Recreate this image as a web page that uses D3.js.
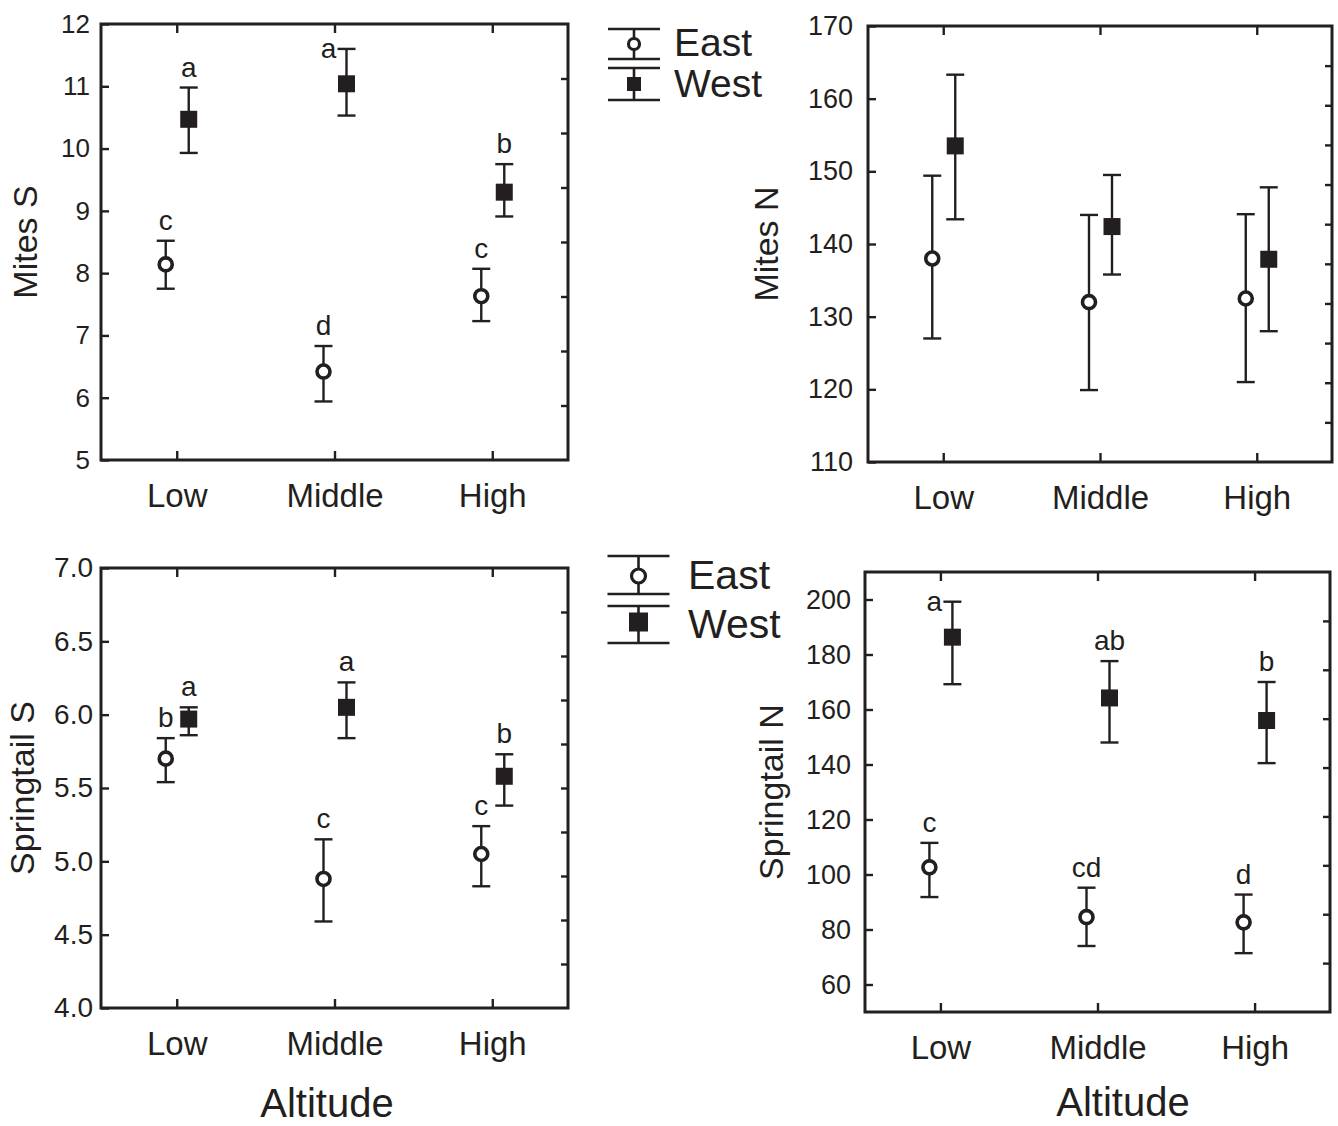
<!DOCTYPE html>
<html>
<head>
<meta charset="utf-8">
<script src="https://cdn.jsdelivr.net/npm/d3@7"></script>
<style>
  html, body { margin: 0; padding: 0; background: #fff; }
  svg { display: block; }
  text { font-family: "Liberation Sans", Arial, Helvetica, sans-serif; fill: #231f20; }
</style>
</head>
<body>
<svg id="chart" width="1338" height="1126"></svg>
<script>
// ---------------- DATA ----------------
const categories = ["Low", "Middle", "High"];
const seriesNames = ["East", "West"];

// Mites S
const mitesSTicks = [5, 6, 7, 8, 9, 10, 11, 12];
const mitesS_East = [8.14, 6.42, 7.63];
const mitesS_East_lo = [7.75, 5.94, 7.23];
const mitesS_East_hi = [8.52, 6.83, 8.07];
const mitesS_East_letters = ["c", "d", "c"];
const mitesS_West = [10.47, 11.04, 9.30];
const mitesS_West_lo = [9.93, 10.53, 8.91];
const mitesS_West_hi = [10.98, 11.60, 9.75];
const mitesS_West_letters = ["a", "a", "b"];

// Mites N
const mitesNTicks = [110, 120, 130, 140, 150, 160, 170];
const mitesN_East = [138.0, 132.0, 132.5];
const mitesN_East_lo = [127.0, 119.9, 121.0];
const mitesN_East_hi = [149.4, 144.0, 144.1];
const mitesN_West = [153.5, 142.4, 137.9];
const mitesN_West_lo = [143.4, 135.8, 128.0];
const mitesN_West_hi = [163.3, 149.5, 147.8];

// Springtail S
const springSTicks = [4.0, 4.5, 5.0, 5.5, 6.0, 6.5, 7.0];
const springS_East = [5.70, 4.88, 5.05];
const springS_East_lo = [5.54, 4.59, 4.83];
const springS_East_hi = [5.84, 5.15, 5.24];
const springS_East_letters = ["b", "c", "c"];
const springS_West = [5.97, 6.05, 5.58];
const springS_West_lo = [5.86, 5.84, 5.38];
const springS_West_hi = [6.05, 6.22, 5.73];
const springS_West_letters = ["a", "a", "b"];

// Springtail N
const springNTicks = [60, 80, 100, 120, 140, 160, 180, 200];
const springN_East = [102.6, 84.5, 82.6];
const springN_East_lo = [91.8, 74.0, 71.4];
const springN_East_hi = [111.5, 95.2, 92.7];
const springN_East_letters = ["c", "cd", "d"];
const springN_West = [186.3, 164.2, 156.0];
const springN_West_lo = [169.2, 148.0, 140.5];
const springN_West_hi = [199.2, 177.6, 170.0];
const springN_West_letters = ["a", "ab", "b"];

// ---------------- LAYOUT ----------------
const INK = "#231f20";
const panels = [
  { title: "Mites S", frame: { x0: 101, x1: 568, y0: 24, y1: 460 }, domain: [5, 12], ticks: mitesSTicks, fmt: d3.format("d"),
    titleX: 25, tickGap: 11, tickFont: 26, rightParts: 8,
    east: [mitesS_East, mitesS_East_lo, mitesS_East_hi, mitesS_East_letters],
    west: [mitesS_West, mitesS_West_lo, mitesS_West_hi, mitesS_West_letters] },
  { title: "Mites N", frame: { x0: 868, x1: 1332, y0: 26, y1: 462 }, domain: [110, 170], ticks: mitesNTicks, fmt: d3.format("d"),
    titleX: 766, tickGap: 15, tickFont: 27, rightParts: 11,
    east: [mitesN_East, mitesN_East_lo, mitesN_East_hi, null],
    west: [mitesN_West, mitesN_West_lo, mitesN_West_hi, null] },
  { title: "Springtail S", frame: { x0: 101, x1: 568, y0: 568, y1: 1008 }, domain: [4, 7], ticks: springSTicks, fmt: d3.format(".1f"),
    titleX: 22, tickGap: 8, tickFont: 28, rightParts: 10, altitude: { x: 327, y: 1117 },
    east: [springS_East, springS_East_lo, springS_East_hi, springS_East_letters],
    west: [springS_West, springS_West_lo, springS_West_hi, springS_West_letters] },
  { title: "Springtail N", frame: { x0: 865, x1: 1330, y0: 572, y1: 1012 }, domain: [50, 210], ticks: springNTicks, fmt: d3.format("d"),
    titleX: 771, tickGap: 14, tickFont: 27, rightParts: 9, altitude: { x: 1123, y: 1116 },
    east: [springN_East, springN_East_lo, springN_East_hi, springN_East_letters],
    west: [springN_West, springN_West_lo, springN_West_hi, springN_West_letters] }
];

const svg = d3.select("#chart");

function drawPanel(p) {
  const f = p.frame;
  const g = svg.append("g");
  const x = d3.scalePoint().domain(categories).range([f.x0, f.x1]).padding(0.48);
  const y = d3.scaleLinear().domain(p.domain).range([f.y1, f.y0]);
  const yRight = d3.scaleLinear().domain([0, p.rightParts]).range([f.y1, f.y0]);

  // left axis (inward ticks)
  const la = g.append("g").attr("transform", `translate(${f.x0},0)`)
    .call(d3.axisLeft(y).tickValues(p.ticks).tickFormat(p.fmt).tickSizeInner(-8).tickSizeOuter(0).tickPadding(p.tickGap));
  la.select(".domain").remove();
  la.selectAll("line").attr("stroke", INK).attr("stroke-width", 2.4);
  la.selectAll("text").attr("font-size", p.tickFont).attr("font-family", null).attr("fill", INK);

  // bottom axis
  const ba = g.append("g").attr("transform", `translate(0,${f.y1})`)
    .call(d3.axisBottom(x).tickSizeInner(-9).tickSizeOuter(0).tickPadding(24));
  ba.select(".domain").remove();
  ba.selectAll("line").attr("stroke", INK).attr("stroke-width", 2.4);
  ba.selectAll("text").attr("font-size", 33).attr("font-family", null).attr("fill", INK);

  // top axis
  const ta = g.append("g").attr("transform", `translate(0,${f.y0})`)
    .call(d3.axisTop(x).tickSizeInner(-9).tickSizeOuter(0).tickFormat(""));
  ta.select(".domain").remove();
  ta.selectAll("line").attr("stroke", INK).attr("stroke-width", 2.4);

  // right axis (inward minor ticks)
  const ra = g.append("g").attr("transform", `translate(${f.x1},0)`)
    .call(d3.axisRight(yRight).tickValues(d3.range(1, p.rightParts)).tickSizeInner(-7).tickSizeOuter(0).tickFormat(""));
  ra.select(".domain").remove();
  ra.selectAll("line").attr("stroke", INK).attr("stroke-width", 2.4);

  // frame
  g.append("rect").attr("x", f.x0).attr("y", f.y0).attr("width", f.x1 - f.x0).attr("height", f.y1 - f.y0)
    .attr("fill", "none").attr("stroke", INK).attr("stroke-width", 3);

  // y title
  g.append("text").attr("transform", `translate(${p.titleX},${(f.y0 + f.y1) / 2}) rotate(-90)`)
    .attr("text-anchor", "middle").attr("dominant-baseline", "central").attr("font-size", 34).text(p.title);

  if (p.altitude) {
    g.append("text").attr("x", p.altitude.x).attr("y", p.altitude.y).attr("text-anchor", "middle")
      .attr("font-size", 40).text("Altitude");
  }

  const dodge = { East: -11, West: 12 };
  [["East", p.east], ["West", p.west]].forEach(([name, arr]) => {
    const [mean, lo, hi, letters] = arr;
    categories.forEach((c, i) => {
      const cx = x(c) + dodge[name];
      const cap = 9;
      g.append("line").attr("x1", cx).attr("x2", cx).attr("y1", y(lo[i])).attr("y2", y(hi[i]))
        .attr("stroke", INK).attr("stroke-width", 2.4);
      [lo[i], hi[i]].forEach(v => {
        g.append("line").attr("x1", cx - cap).attr("x2", cx + cap).attr("y1", y(v)).attr("y2", y(v))
          .attr("stroke", INK).attr("stroke-width", 2.4);
      });
      if (name === "East") {
        g.append("circle").attr("cx", cx).attr("cy", y(mean[i])).attr("r", 6.5)
          .attr("fill", "#fff").attr("stroke", INK).attr("stroke-width", 3.6);
      } else {
        g.append("rect").attr("x", cx - 8.5).attr("y", y(mean[i]) - 8.5).attr("width", 17).attr("height", 17)
          .attr("fill", INK);
      }
      if (letters) {
        const capY = y(hi[i]);
        const nearTop = capY - f.y0 < 36;
        g.append("text")
          .attr("x", nearTop ? cx - 18 : cx)
          .attr("y", nearTop ? capY + 9 : capY - 11)
          .attr("text-anchor", "middle").attr("font-size", 28).text(letters[i]);
      }
    });
  });
}

panels.forEach(drawPanel);

// ---------------- LEGENDS ----------------
function drawLegend(L) {
  const g = svg.append("g");
  const items = [
    { name: seriesNames[0], caps: L.eastCaps, my: L.eastY },
    { name: seriesNames[1], caps: L.westCaps, my: L.westY }
  ];
  items.forEach((it, k) => {
    g.append("line").attr("x1", L.cx).attr("x2", L.cx).attr("y1", it.caps[0]).attr("y2", it.caps[1])
      .attr("stroke", INK).attr("stroke-width", 2.6);
    it.caps.forEach(cy => g.append("line").attr("x1", L.cx - L.half).attr("x2", L.cx + L.half)
      .attr("y1", cy).attr("y2", cy).attr("stroke", INK).attr("stroke-width", 2.6));
    if (k === 0) {
      g.append("circle").attr("cx", L.cx).attr("cy", it.my).attr("r", L.r).attr("fill", "#fff")
        .attr("stroke", INK).attr("stroke-width", 3.2);
    } else {
      g.append("rect").attr("x", L.cx - L.sq / 2).attr("y", it.my - L.sq / 2).attr("width", L.sq).attr("height", L.sq)
        .attr("fill", INK);
    }
    g.append("text").attr("x", L.tx).attr("y", L.base[k]).attr("font-size", L.font).text(it.name);
  });
}
drawLegend({ cx: 634, half: 26, eastCaps: [29, 59], eastY: 44, westCaps: [68, 100], westY: 84, r: 5.5, sq: 14,
  tx: 674, base: [56, 97], font: 39 });
drawLegend({ cx: 638.5, half: 31, eastCaps: [556, 594], eastY: 576, westCaps: [606, 643], westY: 622, r: 7, sq: 19,
  tx: 688, base: [589, 638], font: 41 });
</script>
</body>
</html>
